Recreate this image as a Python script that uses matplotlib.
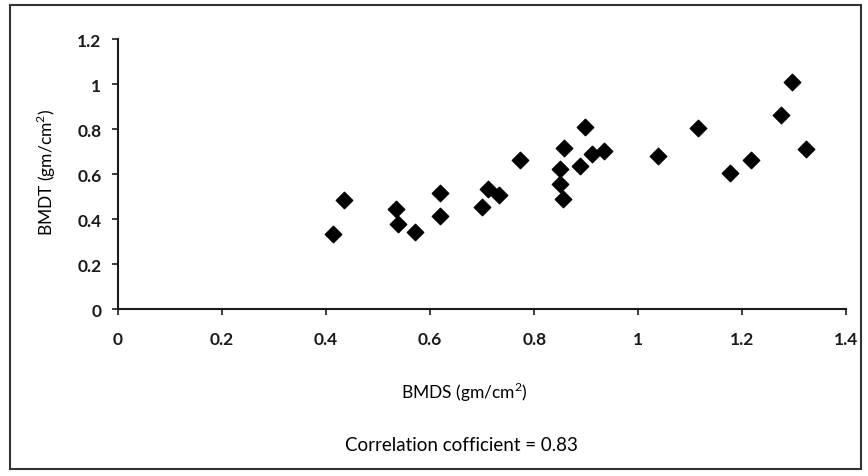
import matplotlib
matplotlib.use("Agg")
import matplotlib.pyplot as plt
from matplotlib.patches import Rectangle

plt.rcParams['font.family'] = ['Lato', 'DejaVu Sans']
plt.rcParams['mathtext.fontset'] = 'custom'
plt.rcParams['mathtext.rm'] = 'Lato'

# BMDS (x) vs BMDT (y)
bmds = [0.413, 0.435, 0.535, 0.538, 0.571, 0.619, 0.619, 0.700, 0.712, 0.733,
        0.773, 0.850, 0.850, 0.856, 0.858, 0.888, 0.898, 0.912, 0.935,
        1.038, 1.115, 1.177, 1.217, 1.275, 1.296, 1.323]
bmdt = [0.333, 0.484, 0.445, 0.378, 0.342, 0.516, 0.413, 0.453, 0.533, 0.506,
        0.662, 0.622, 0.556, 0.489, 0.716, 0.636, 0.809, 0.689, 0.702,
        0.680, 0.804, 0.604, 0.662, 0.862, 1.009, 0.711]

xticks = [0, 0.2, 0.4, 0.6, 0.8, 1, 1.2, 1.4]
yticks = [0, 0.2, 0.4, 0.6, 0.8, 1, 1.2]
tick_labels_x = ['0', '0.2', '0.4', '0.6', '0.8', '1', '1.2', '1.4']
tick_labels_y = ['0', '0.2', '0.4', '0.6', '0.8', '1', '1.2']

fig = plt.figure(figsize=(8.68, 4.77), dpi=100)
ax = fig.add_axes([0.136, 0.350, 0.839, 0.566])

ax.scatter(bmds, bmdt, marker='D', s=70, color='black', zorder=3)

ax.set_xlim(0, 1.4)
ax.set_ylim(0, 1.2)
ax.set_xticks(xticks)
ax.set_xticklabels(tick_labels_x, fontweight='bold')
ax.set_yticks(yticks)
ax.set_yticklabels(tick_labels_y, fontweight='bold')
ax.tick_params(direction='out', length=4, width=1.2, labelsize=12.5, colors='#1a1a1a')
ax.tick_params(axis='x', pad=12)
ax.tick_params(axis='y', pad=8)

for s in ['top', 'right']:
    ax.spines[s].set_visible(False)
for s in ['left', 'bottom']:
    ax.spines[s].set_linewidth(1.5)
    ax.spines[s].set_color('#1a1a1a')

fig.text(0.053, 0.639, 'BMDT (gm/cm$^2$)', rotation=90, ha='center', va='center', fontsize=12.5)
fig.text(0.535, 0.178, 'BMDS (gm/cm$^2$)', ha='center', va='center', fontsize=12.5)
fig.text(0.532, 0.065, 'Correlation cofficient = 0.83', ha='center', va='center', fontsize=13.5)

# chart frame
fig.patches.append(Rectangle((0.012, 0.015), 0.98, 0.972, transform=fig.transFigure,
                             fill=False, edgecolor='#333333', linewidth=1.5))

fig.savefig('out.png', dpi=100)
